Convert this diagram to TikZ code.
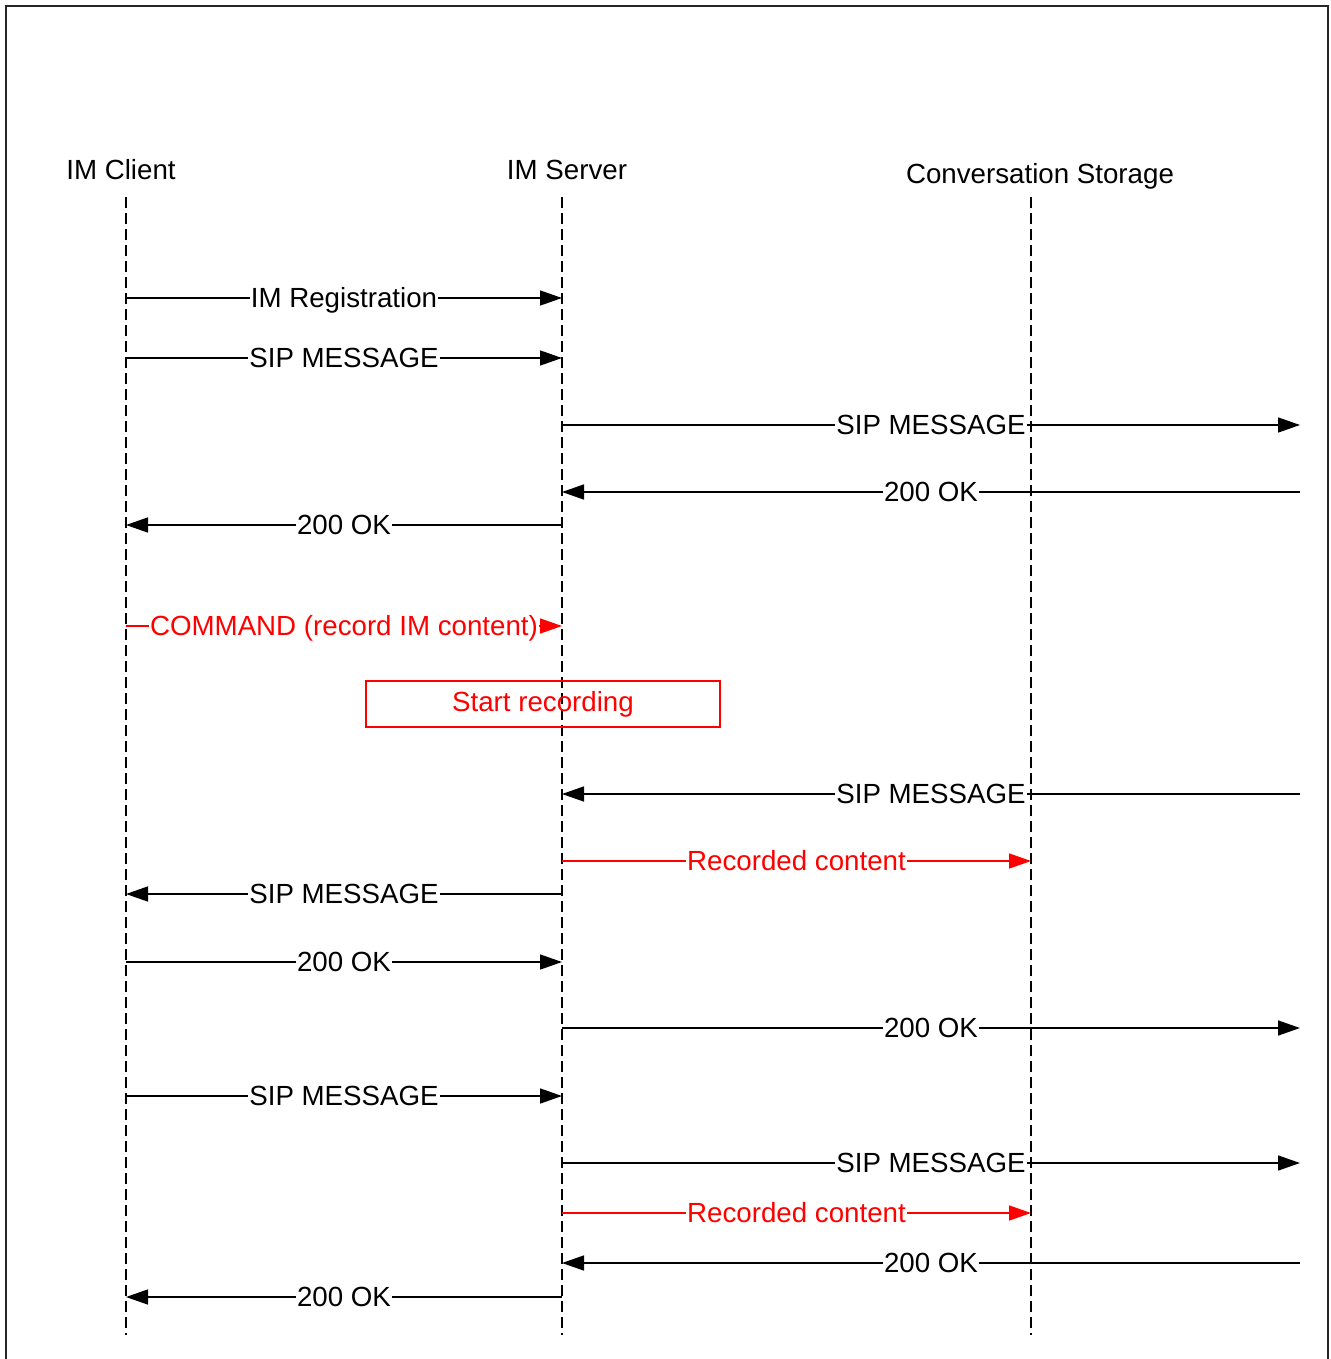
\documentclass[tikz,border=0pt]{standalone}
\usepackage{fontspec}
\setmainfont{Liberation Sans}
\usetikzlibrary{arrows.meta,calc}
\newcommand\seqmsg[5]{%
  \coordinate (a#1) at (#2,#1);
  \coordinate (b#1) at (#3,#1);
  \draw[msg,#5] (a#1) -- (b#1);
  \node[lbl,text=#5] (t#1) at ($(a#1)!0.5!(b#1)$) {#4};}
\begin{document}
\begin{tikzpicture}[x=1pt,y=-1pt,
  lifeline/.style={line width=1.3pt,dash pattern=on 11pt off 5pt},
  msg/.style={line width=1.5pt,-{Triangle[length=22pt,width=15pt]}},
  txt/.style={font=\fontsize{27.7}{33}\selectfont},
  lbl/.style={txt,fill=white,inner xsep=1pt,inner ysep=0pt,anchor=base,yshift=-9pt},
  hdr/.style={txt,anchor=base,inner sep=0pt}]
\useasboundingbox (0,0) rectangle (1330,1359);
% frame
\draw[line width=1.5pt,black!85] (6,1370) -- (6,6) -- (1328,6) -- (1328,1370);
% headers
\node[hdr] (client) at (121,179) {IM Client};
\node[hdr] (server) at (567,179) {IM Server};
\node[hdr] (storage) at (1040,183) {Conversation Storage};
% lifelines
\coordinate (cT) at (126,197); \coordinate (cB) at (126,1335);
\coordinate (sT) at (562,197); \coordinate (sB) at (562,1335);
\coordinate (gT) at (1031,197); \coordinate (gB) at (1031,1335);
\draw[lifeline] (cT) -- (cB);
\draw[lifeline] (sT) -- (sB);
\draw[lifeline] (gT) -- (gB);
% messages
\seqmsg{298}{126}{562}{IM Registration}{black}
\seqmsg{358}{126}{562}{SIP MESSAGE}{black}
\seqmsg{425}{562}{1300}{SIP MESSAGE}{black}
\seqmsg{492}{1300}{562}{200 OK}{black}
\seqmsg{525}{562}{126}{200 OK}{black}
\seqmsg{626}{126}{562}{COMMAND (record IM content)}{red}
\node[txt,draw=red,line width=1.2pt,text=red,minimum width=354pt,minimum height=46pt,inner sep=0pt] (rec) at (543,704) {Start recording};
\seqmsg{794}{1300}{562}{SIP MESSAGE}{black}
\seqmsg{861}{562}{1031}{Recorded content}{red}
\seqmsg{894}{562}{126}{SIP MESSAGE}{black}
\seqmsg{962}{126}{562}{200 OK}{black}
\seqmsg{1028}{562}{1300}{200 OK}{black}
\seqmsg{1096}{126}{562}{SIP MESSAGE}{black}
\seqmsg{1163}{562}{1300}{SIP MESSAGE}{black}
\seqmsg{1213}{562}{1031}{Recorded content}{red}
\seqmsg{1263}{1300}{562}{200 OK}{black}
\seqmsg{1297}{562}{126}{200 OK}{black}
\end{tikzpicture}
\end{document}
